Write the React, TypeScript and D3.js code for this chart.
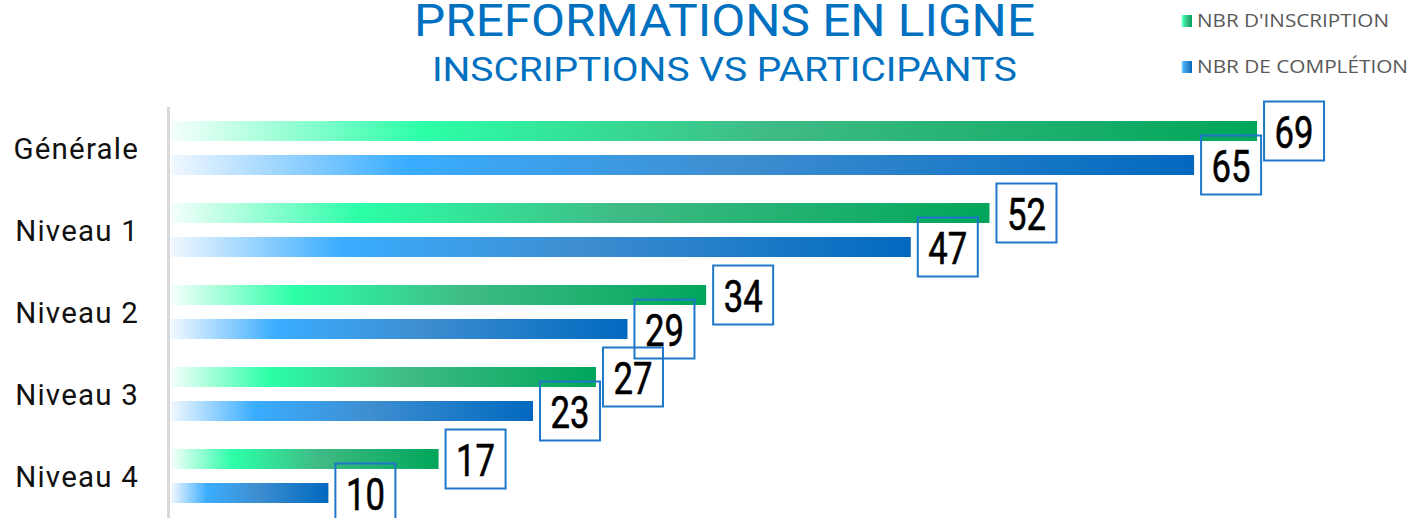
import * as d3 from 'd3'

const categories = ['Générale', 'Niveau 1', 'Niveau 2', 'Niveau 3', 'Niveau 4']
const inscriptions = [69, 52, 34, 27, 17]
const completions = [65, 47, 29, 23, 10]
const seriesNames = ["NBR D'INSCRIPTION", 'NBR DE COMPLÉTION']
const title = 'PREFORMATIONS EN LIGNE'
const subtitle = 'INSCRIPTIONS VS PARTICIPANTS'

const W = 1423
const H = 518
const BLUE = '#0070c0'
const DIN = 'Roboto, "Liberation Sans", sans-serif'

export default function App() {
  const x = d3.scaleLinear().domain([0, 80]).range([171, 171 + 15.74 * 80])
  const y = d3.scaleBand<string>().domain(categories).range([107, 517])
  const sub = d3
    .scaleBand<string>()
    .domain(['insc', 'comp'])
    .range([0, y.bandwidth()])
    .padding(14 / 34)

  const series = [
    { key: 'insc', values: inscriptions, grad: 'gGreen' },
    { key: 'comp', values: completions, grad: 'gBlue' },
  ]

  const bw = sub.bandwidth()

  return (
    <svg width={W} height={H} style={{ position: 'absolute', left: 0, top: 0, background: '#fff' }}>
      <defs>
        <linearGradient id="gGreen" x1="0" x2="1" y1="0" y2="0">
          <stop offset="0" stopColor="#f5fffb" />
          <stop offset="0.23" stopColor="#2cffa8" />
          <stop offset="0.55" stopColor="#3fbb85" />
          <stop offset="1" stopColor="#00a65b" />
        </linearGradient>
        <linearGradient id="gBlue" x1="0" x2="1" y1="0" y2="0">
          <stop offset="0" stopColor="#f1f8ff" />
          <stop offset="0.23" stopColor="#3aadff" />
          <stop offset="0.55" stopColor="#3e8ed0" />
          <stop offset="1" stopColor="#0069bf" />
        </linearGradient>
      </defs>

      {/* titles */}
      <text x={724.5} y={36} textAnchor="middle" fill={BLUE} fontSize={44}
        fontFamily={DIN} textLength={621} lengthAdjust="spacingAndGlyphs">
        {title}
      </text>
      <text x={724.5} y={81} textAnchor="middle" fill={BLUE} fontSize={34}
        fontFamily={DIN} textLength={585} lengthAdjust="spacingAndGlyphs">
        {subtitle}
      </text>

      {/* legend */}
      {seriesNames.map((name, i) => (
        <g key={name} transform={`translate(1181, ${15 + i * 46})`}>
          <rect width={11} height={12} fill={`url(#${series[i].grad})`} />
          <text x={16} y={12} fontSize={17.5} fill="#595959"
            fontFamily='"Open Sans", "Liberation Sans", sans-serif'
            textLength={i === 0 ? 192 : 211} lengthAdjust="spacingAndGlyphs">
            {name}
          </text>
        </g>
      ))}

      {/* axis line */}
      <line x1={168.5} x2={168.5} y1={107} y2={H} stroke="#d9d9d9" strokeWidth={3} />

      {/* category labels */}
      {categories.map(c => (
        <text key={c} x={139} y={(y(c) ?? 0) + y.bandwidth() / 2 + 11} textAnchor="end"
          fontSize={29.5} letterSpacing={1.2} fill="#111" fontFamily={DIN}>
          {c}
        </text>
      ))}

      {/* bars */}
      {series.map(s =>
        categories.map((c, i) => (
          <rect key={s.key + c} x={x(0)} y={(y(c) ?? 0) + (sub(s.key) ?? 0)}
            width={x(s.values[i]) - x(0)} height={bw} fill={`url(#${s.grad})`} />
        ))
      )}

      {/* value boxes */}
      {series.map(s =>
        categories.map((c, i) => {
          const cy = (y(c) ?? 0) + (sub(s.key) ?? 0) + bw / 2
          const bx = x(s.values[i]) + 7
          return (
            <g key={'l' + s.key + c}>
              <rect x={bx} y={cy - 29.5} width={60} height={59} fill="none" stroke="#1f77c9" strokeWidth={2} />
              <text x={bx + 30} y={cy + 17} textAnchor="middle" fontSize={45} fill="#000"
                stroke="#000" strokeWidth={0.6}
                fontFamily={DIN} textLength={39} lengthAdjust="spacingAndGlyphs">
                {s.values[i]}
              </text>
            </g>
          )
        })
      )}
    </svg>
  )
}
